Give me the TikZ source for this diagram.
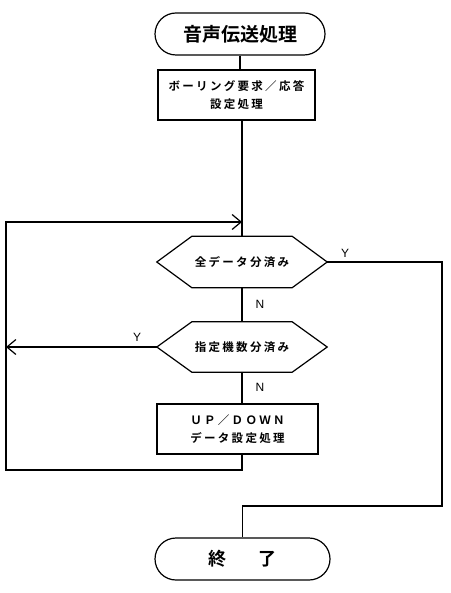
\documentclass[tikz,border=0pt]{standalone}
\usepackage{fontspec}
\newfontfamily\jp{Noto Sans CJK JP}[BoldFont={Noto Sans CJK JP Bold}]
\newfontfamily\jpsp{Noto Sans CJK JP}[BoldFont={Noto Sans CJK JP Bold},LetterSpace=20]
\newfontfamily\lat{Liberation Sans}
\usetikzlibrary{arrows.meta,calc}
\tikzset{
  line/.style={line width=1.2pt},
  arr/.style={line, -{Straight Barb[length=9pt,width=15pt,line width=1.2pt]}},
  term/.style={line, draw, rounded corners=21pt, minimum height=42pt, inner sep=0pt},
  proc/.style={line, draw, minimum height=50pt, align=center, inner sep=0pt,
     font=\jpsp\bfseries\fontsize{11.5}{18}\selectfont},
  hexa/.style={minimum width=170pt, minimum height=51pt, inner sep=0pt,
     font=\jpsp\bfseries\fontsize{11.5}{14}\selectfont},
  lbl/.style={font=\lat\fontsize{12}{14}\selectfont, inner sep=0pt}
}
\newcommand{\hexdraw}[1]{%
  \draw[line] (#1.west) -- ($(#1.north west)+(35pt,0)$) -- ($(#1.north east)+(-35pt,0)$)
   -- (#1.east) -- ($(#1.south east)+(-35pt,0)$) -- ($(#1.south west)+(35pt,0)$) -- cycle;}
\begin{document}
\begin{tikzpicture}[x=1pt,y=-1pt]
\useasboundingbox (0,0) rectangle (450,593);
\node[term, minimum width=170pt, font=\jp\bfseries\fontsize{19}{22}\selectfont] (t1) at (240,34) {音声伝送処理};
\node[proc, minimum width=157pt] (b1) at (236.5,95) {ボーリング要求／応答\\設定処理};
\node[hexa] (d1) at (242,262) {全データ分済み};
\node[hexa, minimum height=50pt] (d2) at (242,347) {指定機数分済み};
\node[proc, minimum width=161pt] (b2) at (237.5,429) {ＵＰ／ＤＯＷＮ\\データ設定処理};
\node[term, minimum width=175pt, font=\jp\bfseries\fontsize{18}{22}\selectfont] (t2) at (242.5,559) {終\hspace{32pt}了};
\hexdraw{d1}
\hexdraw{d2}
\coordinate (jn) at (242,222);
\coordinate (lt) at (6,222);
\coordinate (lb) at (6,470);
\coordinate (rb) at (442,506);
\draw[line] (t1.south) -- (t1.south |- b1.north);
\draw[line] (b1.south -| d1.north) -- (d1.north);
\draw[line] (d1.south) -- (d2.north);
\draw[line] (d2.south) -- (d2.south |- b2.north);
\draw[arr] (b2.south -| jn) |- (lb) -- (lt) -- (jn);
\draw[arr] (d2.west) -- (d2.west -| lt);
\draw[line] (d1.east) -| (rb) -- (rb -| t2.north) -- (t2.north);
\node[lbl] (y1) at (345,253) {Y};
\node[lbl] (n1) at (260,304) {N};
\node[lbl] (y2) at (137,337) {Y};
\node[lbl] (n2) at (260,387) {N};
\end{tikzpicture}
\end{document}
